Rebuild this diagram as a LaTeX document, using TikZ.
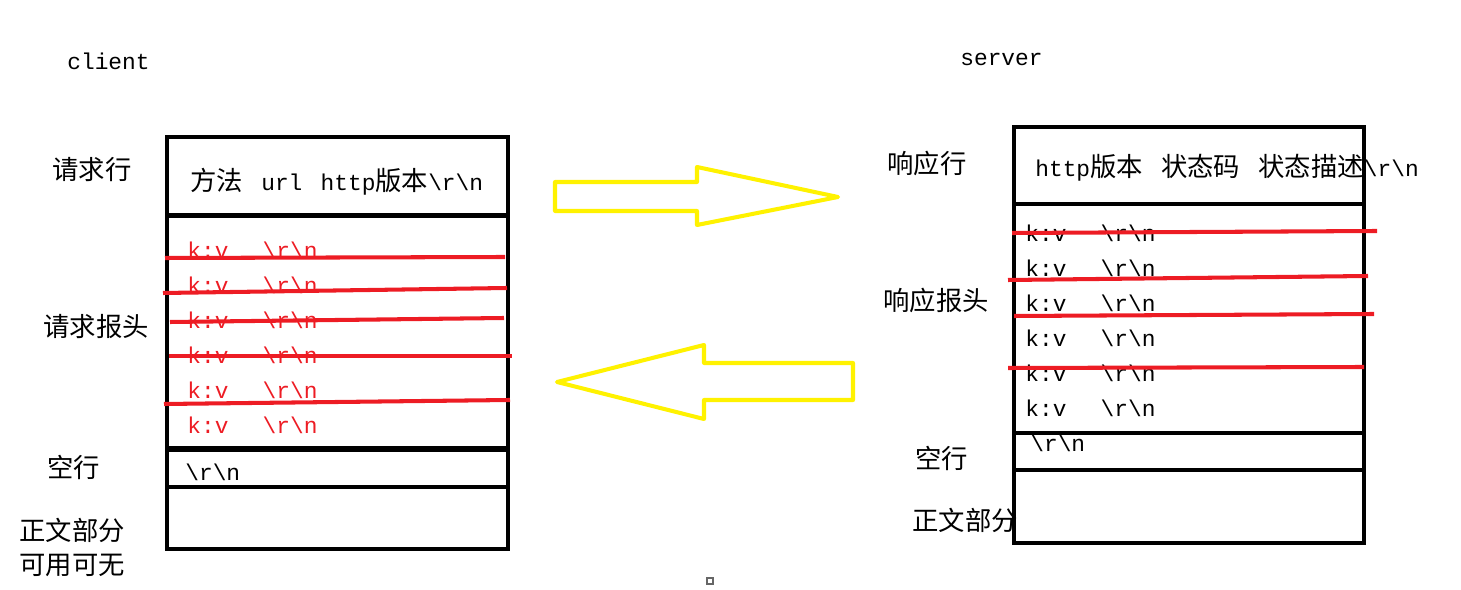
\documentclass[tikz,border=0pt]{standalone}
\usepackage{fontspec}
\setmainfont{Liberation Mono}
\newfontfamily\cjk{Noto Sans CJK SC}
\definecolor{paintRed}{HTML}{ED1C24}
\definecolor{paintYellow}{HTML}{FFF200}
\newcommand{\zh}[1]{{\fontsize{15pt}{17pt}\cjk #1}}
\newcommand{\crlf}{\textbackslash r\textbackslash n}
\newcommand{\gap}{\hspace{0.8em}}

\begin{document}
\begin{tikzpicture}[x=0.02cm, y=-0.02cm,
    font=\fontsize{13pt}{15pt}\selectfont,
    frame/.style={line width=2.3pt, line join=miter},
    strike/.style={line width=2.3pt, paintRed},
    bigarrow/.style={line width=2.3pt, paintYellow, line join=round},
    lbl/.style={anchor=west, inner sep=0pt}]
    \useasboundingbox (0,0) rectangle (1461,590);

    % client side
    \node[lbl] (client) at (67,61) {client};
    \draw[frame] (167,137) rectangle (508,215);
    \draw[frame] (167,216) rectangle (508,448);
    \draw[frame] (167,450) rectangle (508,487);
    \draw[frame] (167,487) rectangle (508,549);

    \node[lbl] (reqLine) at (52,170) {\zh{请求行}};
    \node[lbl] (reqHead) at (43,327) {\zh{请求报头}};
    \node[lbl] (reqBlank) at (47,467) {\zh{空行}};
    \node[lbl] (reqBody) at (19,530) {\zh{正文部分}};
    \node[lbl] (reqOpt) at (19,565) {\zh{可用可无}};

    \node[lbl] (reqText) at (190,182) {\zh{方法}\gap url\gap http\zh{版本}\crlf};
    \foreach \y [count=\i] in {250,285,...,425}
        \node[lbl, paintRed] (reqKv\i) at (187,\y) {k:v\hspace{1.5em}\crlf};
    \node[lbl] (reqCrlf) at (185,472) {\crlf};

    \draw[strike] (165,258) -- (505,257);
    \draw[strike] (163,293) -- (507,288);
    \draw[strike] (170,322) -- (504,318);
    \draw[strike] (169,356) -- (512,356);
    \draw[strike] (164,404) -- (510,400);

    % server side
    \node[lbl] (server) at (960,59) {server};
    \draw[frame] (1014,127) rectangle (1364,204);
    \draw[frame] (1014,204) rectangle (1364,433);
    \draw[frame] (1014,433) rectangle (1364,470);
    \draw[frame] (1014,470) rectangle (1364,543);

    \node[lbl] (respLine) at (887,163) {\zh{响应行}};
    \node[lbl] (respHead) at (883,300) {\zh{响应报头}};
    \node[lbl] (respBlank) at (915,458) {\zh{空行}};
    \node[lbl] (respBody) at (912,520) {\zh{正文部分}};

    \node[lbl] (respText) at (1035,168) {http\zh{版本}\gap\zh{状态码}\gap\zh{状态描述}\crlf};
    \foreach \y [count=\i] in {233,268,...,408}
        \node[lbl] (respKv\i) at (1025,\y) {k:v\hspace{1.5em}\crlf};
    \node[lbl] (respCrlf) at (1030,443) {\crlf};

    \draw[strike] (1012,233) -- (1377,231);
    \draw[strike] (1008,280) -- (1368,276);
    \draw[strike] (1014,316) -- (1374,314);
    \draw[strike] (1008,368) -- (1364,367);

    % arrows between
    \draw[bigarrow] (555,182) -- (697,182) -- (697,167) -- (838,197)
        -- (697,225) -- (697,211) -- (555,211) -- cycle;
    \draw[bigarrow] (557,382) -- (704,345) -- (704,363) -- (853,363)
        -- (853,400) -- (704,400) -- (704,419) -- cycle;

    \draw[gray!80!black, line width=0.8pt] (707,578) rectangle (713,584);
\end{tikzpicture}
\end{document}
